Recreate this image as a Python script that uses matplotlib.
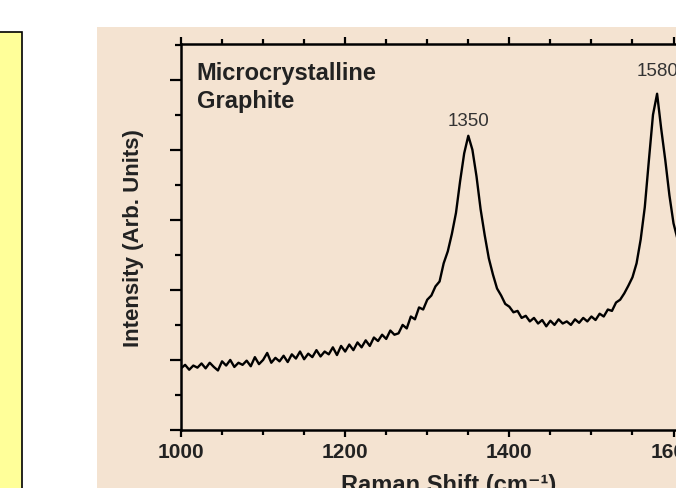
import numpy as np
import matplotlib.pyplot as plt
from matplotlib.patches import Rectangle
from matplotlib.ticker import MultipleLocator

plt.rcParams['font.family'] = ['Liberation Sans', 'DejaVu Sans']

# Raman shift (cm-1), every 5 cm-1
shift = np.arange(1000, 1615, 5)
# intensity (arb. units, major tick = 1)
intensity = [
    0.88, 0.93, 0.86, 0.92, 0.89, 0.95, 0.88, 0.96, 0.90, 0.85,
    0.98, 0.92, 1.00, 0.90, 0.96, 0.93, 0.99, 0.91, 1.04, 0.94,
    1.00, 1.10, 0.96, 1.03, 0.98, 1.06, 0.97, 1.08, 1.02, 1.12,
    1.01, 1.09, 1.04, 1.14, 1.05, 1.12, 1.08, 1.18, 1.07, 1.20,
    1.12, 1.22, 1.14, 1.25, 1.18, 1.28, 1.20, 1.32, 1.27, 1.36,
    1.30, 1.42, 1.36, 1.38, 1.50, 1.45, 1.62, 1.58, 1.75, 1.72,
    1.86, 1.92, 2.05, 2.12, 2.38, 2.55, 2.80, 3.10, 3.55, 3.95,
    4.20, 4.00, 3.62, 3.15, 2.78, 2.45, 2.22, 2.02, 1.92, 1.80,
    1.76, 1.68, 1.70, 1.60, 1.63, 1.55, 1.60, 1.52, 1.57, 1.48,
    1.56, 1.50, 1.58, 1.52, 1.55, 1.50, 1.58, 1.53, 1.60, 1.55,
    1.62, 1.57, 1.66, 1.62, 1.72, 1.70, 1.82, 1.86, 1.95, 2.06,
    2.18, 2.38, 2.72, 3.18, 3.85, 4.50, 4.80, 4.30, 3.85, 3.35,
    2.95, 2.72, 2.50,
]
peaks = [1350, 1580]
peak_heights = [4.20, 4.80]

beige = '#F4E3D1'
fig = plt.figure(figsize=(6.76, 4.89), dpi=100)

# beige panel behind the plot and yellow box on the left
fig.patches.append(Rectangle((97/676, 0), 1, (489-28)/489, transform=fig.transFigure,
                             facecolor=beige, edgecolor='none', zorder=-10))
fig.patches.append(Rectangle((-0.01, -0.01), 0.0425, (489-33)/489 + 0.01,
                             transform=fig.transFigure, facecolor='#FFFF99',
                             edgecolor='black', lw=1.2, zorder=-10))

ax = fig.add_axes([181/676, 58/489, 0.85, 386/489])
ax.set_facecolor(beige)
ax.plot(shift, intensity, color='black', lw=1.7)

ax.set_xlim(1000, 1700)
ax.set_ylim(0, 5.51)
ax.xaxis.set_major_locator(MultipleLocator(200))
ax.xaxis.set_minor_locator(MultipleLocator(50))
ax.yaxis.set_major_locator(MultipleLocator(1))
ax.yaxis.set_minor_locator(MultipleLocator(0.5))
ax.tick_params(axis='x', which='both', direction='out', top=True, width=1.6)
ax.tick_params(axis='x', which='major', length=5, pad=4, labelsize=15)
ax.tick_params(axis='x', which='minor', length=3.5)
ax.tick_params(axis='y', which='major', direction='out', length=8, width=1.6, labelleft=False)
ax.tick_params(axis='y', which='minor', direction='out', length=4.5, width=1.6)
for lab in ax.get_xticklabels():
    lab.set_fontweight('bold')
    lab.set_color('#222222')
for s in ax.spines.values():
    s.set_linewidth(1.8)

# peak labels, lifted a bit above each peak
lifts = [0.16, 0.27]
for p, h, d in zip(peaks, peak_heights, lifts):
    ax.text(p, h + d, str(p), ha='center', va='baseline', fontsize=13.5, color='#333333')

ax.text(0.027, 0.955, 'Microcrystalline\nGraphite', transform=ax.transAxes,
        ha='left', va='top', fontsize=17, fontweight='bold', color='#222222',
        linespacing=1.25)

ax.set_ylabel('Intensity (Arb. Units)', fontsize=16, fontweight='bold', color='#222222')
ax.yaxis.set_label_coords(-0.064, 0.5)
ax.set_xlabel('Raman Shift (cm\u207b\u00b9)', fontsize=17, fontweight='bold', color='#222222',
              family=['Liberation Sans', 'DejaVu Sans'])
ax.xaxis.set_label_coords(0.465, -0.112)

fig.savefig('out.png', dpi=100)
